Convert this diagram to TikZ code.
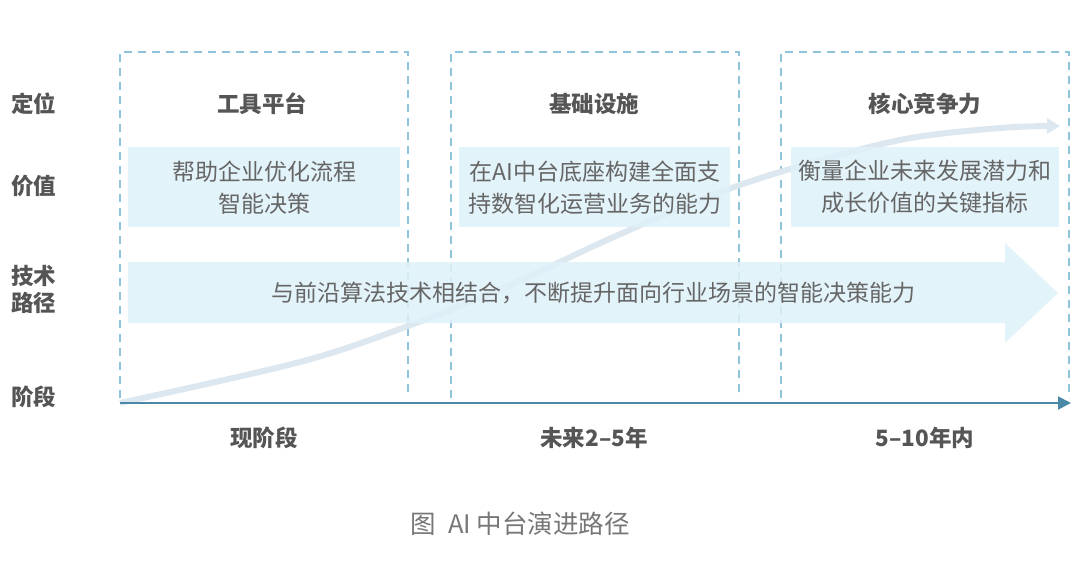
\documentclass[tikz,border=0pt]{standalone}
\usepackage{fontspec}
\setmainfont{Noto Sans CJK SC}
\usetikzlibrary{arrows.meta}
\definecolor{framecol}{HTML}{8FC4DA}
\definecolor{boxcol}{HTML}{DFF1FA}
\definecolor{curvecol}{HTML}{DCE7F0}
\definecolor{axiscol}{HTML}{4A88A8}
\definecolor{labcol}{HTML}{555555}
\definecolor{txtcol}{HTML}{666666}
\definecolor{capcol}{HTML}{777777}
\begin{document}
\begin{tikzpicture}[x=1pt,y=-1pt,
  dashframe/.style={draw=framecol,line width=1.3pt,dash pattern=on 8pt off 6pt},
  rowlab/.style={font=\fontsize{22.5}{28}\selectfont\bfseries,text=labcol,anchor=west,inner sep=0pt,align=left},
  headtext/.style={font=\fontsize{22.5}{28}\selectfont\bfseries,text=labcol,inner sep=0pt},
  valbox/.style={fill=boxcol,fill opacity=0.85,text opacity=1,text=txtcol,font=\fontsize{23}{32}\selectfont,align=center,inner sep=0pt,anchor=north west},
  curveline/.style={draw=curvecol,line width=6pt},
  axisline/.style={draw=axiscol,line width=2pt,-{Triangle[length=13pt,width=13pt]}},
  captext/.style={font=\fontsize{25.5}{30}\selectfont,text=capcol,inner sep=0pt}]
\useasboundingbox (0,0) rectangle (1080,573);
\fill[white] (0,0) rectangle (1080,573);

% dashed columns
\draw[dashframe] (120,398) -- (120,52) -- (408,52) -- (408,398);
\draw[dashframe] (451,398) -- (451,52) -- (739,52) -- (739,398);
\draw[dashframe] (781,398) -- (781,52) -- (1069,52) -- (1069,398);

% growth curve
\draw[curveline,-{Triangle[length=13pt,width=15pt]}] plot[smooth,tension=0.55] coordinates
  {(120,403) (300,362) (408,326) (510,285) (607,240) (700,200) (780,172) (900,140) (1000,128) (1060,126)};

% row labels
\node[rowlab] (l1) at (11,104) {定位};
\node[rowlab] (l2) at (11,186) {价值};
\node[rowlab] (l3) at (11,289) {技术\\[-1pt]路径};
\node[rowlab] (l4) at (11,397) {阶段};

% headers
\node[headtext] (h1) at (262,104) {工具平台};
\node[headtext] (h2) at (594,104) {基础设施};
\node[headtext] (h3) at (925,104) {核心竞争力};

% value boxes
\node[valbox,minimum width=272pt,minimum height=80pt] (v1) at (128,147) {帮助企业优化流程\\智能决策};
\node[valbox,minimum width=271pt,minimum height=80pt] (v2) at (459,147) {在AI中台底座构建全面支\\持数智化运营业务的能力};
\node[valbox,minimum width=268pt,minimum height=80pt] (v3) at (791,147) {衡量企业未来发展潜力和\\成长价值的关键指标};

% big arrow
\fill[boxcol,fill opacity=0.85] (128,262) -- (1005,262) -- (1005,243) -- (1058,293) -- (1005,343) -- (1005,323) -- (128,323) -- cycle;
\node[text=txtcol,font=\fontsize{23}{28}\selectfont,inner sep=0pt] (tp) at (593,293) {与前沿算法技术相结合，不断提升面向行业场景的智能决策能力};

% axis
\coordinate (a0) at (120,403);
\coordinate (a1) at (1071,403);
\draw[axisline] (a0) -- (a1);

% stage labels
\node[headtext] (s1) at (264,438) {现阶段};
\node[headtext] (s2) at (594,438) {未来2–5年};
\node[headtext] (s3) at (925,438) {5–10年内};

% caption
\node[captext] (cp) at (520,524) {图\hspace{0.5em}AI 中台演进路径};
\end{tikzpicture}
\end{document}
